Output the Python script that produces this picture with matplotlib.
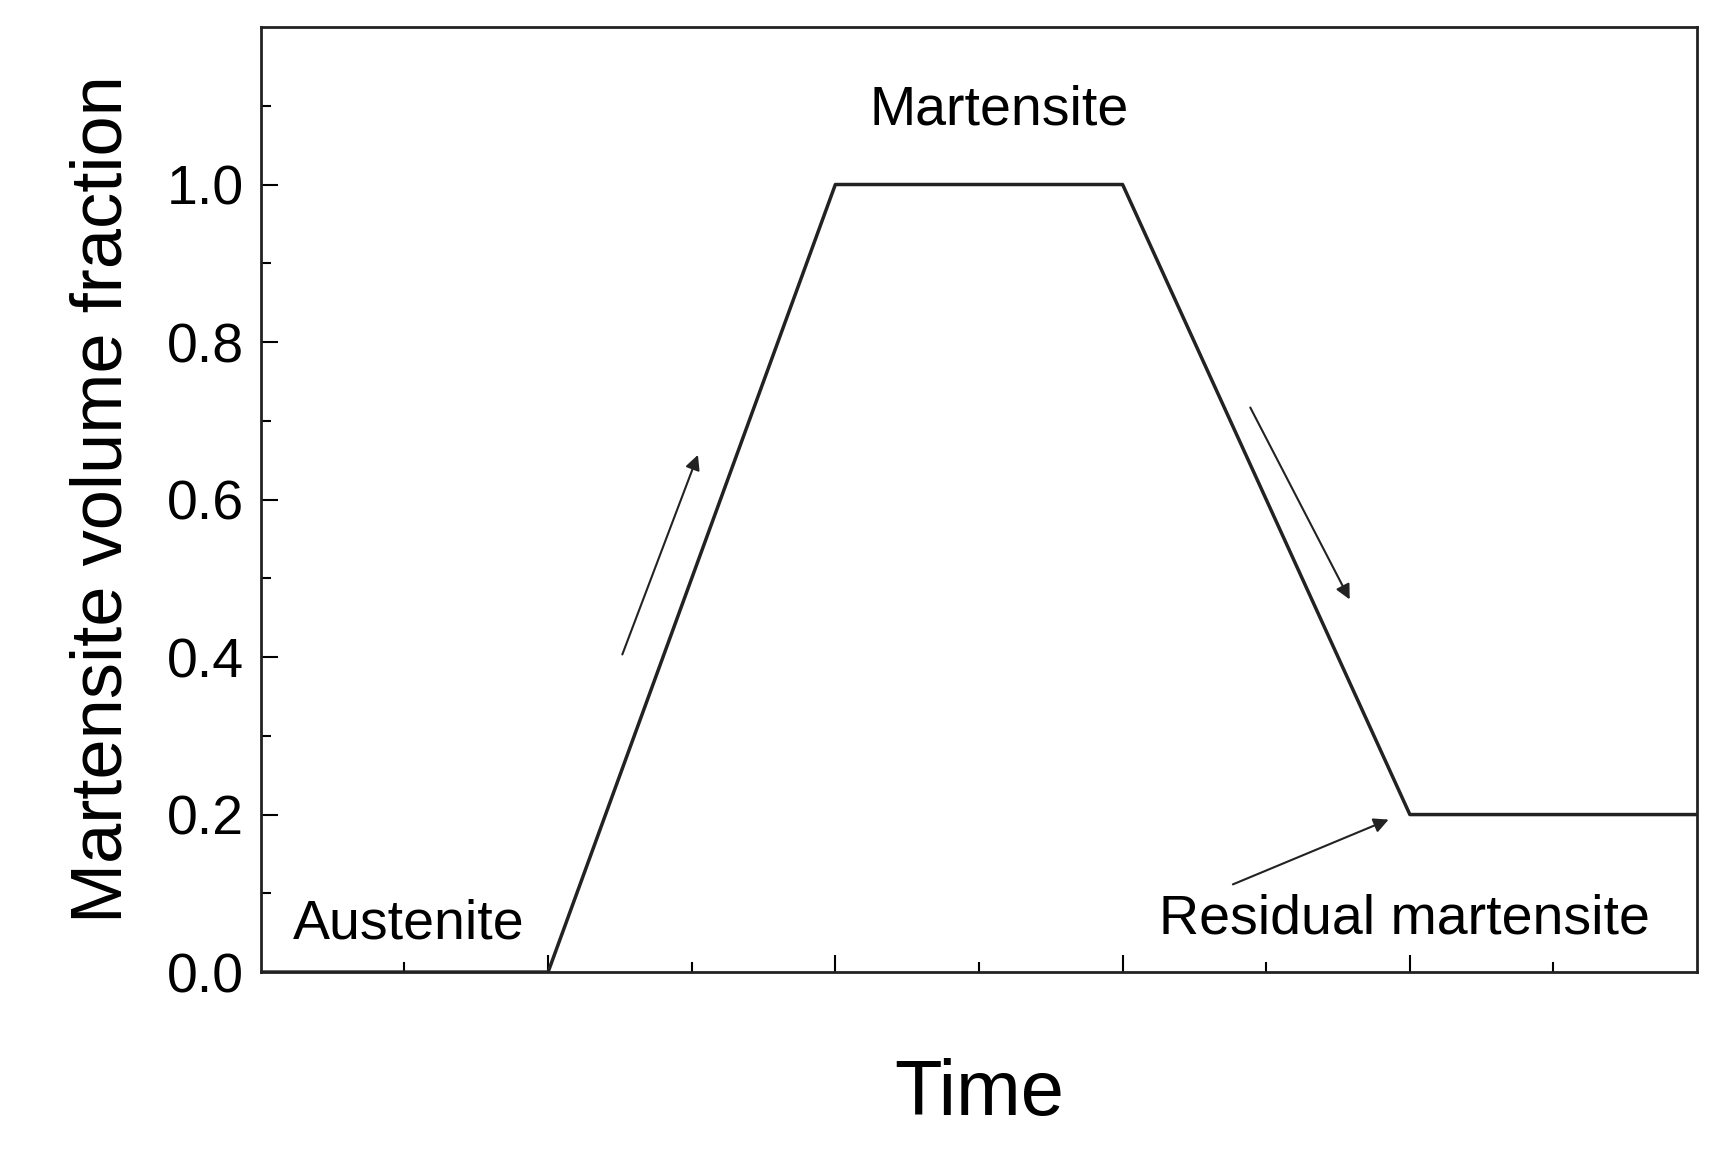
import matplotlib.pyplot as plt
import numpy as np

plt.rcParams['font.family'] = ['Liberation Sans', 'DejaVu Sans']

# Kinetics of martensite volume fraction (schematic)
time = [0, 2, 4, 6, 8, 10]
fraction = [0, 0, 1.0, 1.0, 0.2, 0.2]

arrows = [((2.51, 0.40), (3.05, 0.66)),
          ((6.88, 0.72), (7.59, 0.47)),
          ((6.75, 0.11), (7.87, 0.195))]

fig = plt.figure(figsize=(17.16, 11.74), dpi=100)
ax = fig.add_axes([0.152, 0.172, 0.837, 0.805])
ax.plot(time, fraction, color='#222222', lw=2.5)

for start, end in arrows:
    ax.annotate('', xy=end, xytext=start,
                arrowprops=dict(arrowstyle='-|>', color='#222222', lw=1.5, mutation_scale=22))

ax.text(5.14, 1.094, 'Martensite', fontsize=40, ha='center', va='center')
ax.text(1.03, 0.06, 'Austenite', fontsize=40, ha='center', va='center')
ax.text(7.96, 0.067, 'Residual martensite', fontsize=40, ha='center', va='center')

ax.set_xlim(0, 10)
ax.set_ylim(0, 1.2)
ax.set_yticks(np.arange(0, 1.01, 0.2))
ax.set_yticklabels(['0.0', '0.2', '0.4', '0.6', '0.8', '1.0'])
ax.set_yticks(np.arange(0, 1.2, 0.1), minor=True)
ax.set_xticks([2, 4, 6, 8])
ax.set_xticks([1, 3, 5, 7, 9], minor=True)
ax.set_xticklabels([])
ax.tick_params(axis='both', which='major', direction='in', length=12, width=1.5,
               labelsize=40, pad=12)
ax.tick_params(axis='both', which='minor', direction='in', length=7, width=1.5)
for s in ax.spines.values():
    s.set_linewidth(2)
    s.set_color('#222222')

ax.set_ylabel('Martensite volume fraction', fontsize=52, labelpad=22)
ax.set_xlabel('Time', fontsize=56, labelpad=50)

fig.savefig('out.png', dpi=100)
